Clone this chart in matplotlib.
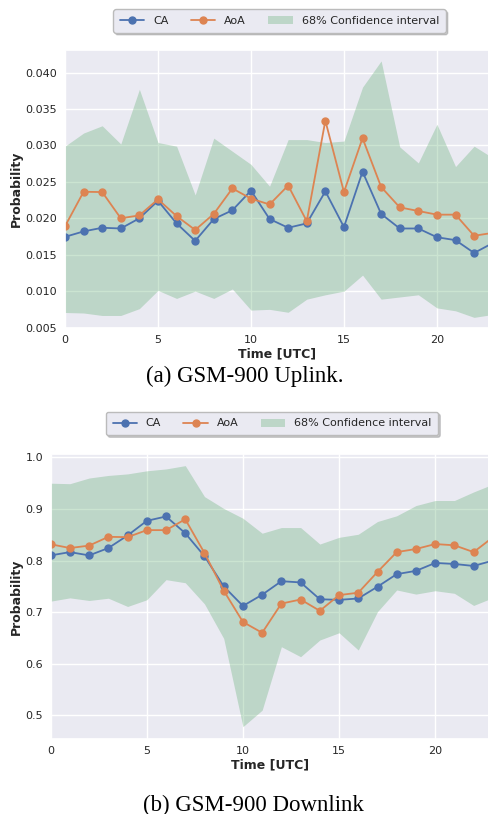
import numpy as np
import matplotlib
matplotlib.use("Agg")
import matplotlib.pyplot as plt
import seaborn as sns

sns.set_theme(style="darkgrid")
plt.rcParams['font.family'] = ['DejaVu Sans']

hours = list(range(24))

# (a) GSM-900 Uplink
ul_ca = [0.01745, 0.0182, 0.0187, 0.0186, 0.0200, 0.0224, 0.0193, 0.0169,
         0.0199, 0.0211, 0.0238, 0.0199, 0.0187, 0.0193, 0.0237, 0.0188,
         0.0264, 0.0206, 0.0186, 0.0186, 0.0174, 0.0170, 0.01524, 0.0166]
ul_aoa = [0.0189, 0.02364, 0.0236, 0.0200, 0.0204, 0.0226, 0.0203, 0.0184,
          0.0206, 0.0241, 0.0227, 0.0219, 0.0245, 0.0196, 0.0334, 0.0236,
          0.0310, 0.0243, 0.0215, 0.0210, 0.0205, 0.0205, 0.0176, 0.0180]
ul_hi = [0.0299, 0.0317, 0.0327, 0.0302, 0.0377, 0.0304, 0.0299, 0.0232,
         0.0310, 0.0292, 0.0274, 0.0244, 0.0308, 0.0308, 0.0304, 0.0306,
         0.0380, 0.0416, 0.0298, 0.0276, 0.0329, 0.0271, 0.0299, 0.0283]
ul_lo = [0.00707, 0.0070, 0.00666, 0.00666, 0.0076, 0.0101, 0.0090, 0.0100,
         0.0090, 0.0103, 0.0074, 0.0075, 0.0071, 0.0089, 0.0095, 0.0100,
         0.0122, 0.0089, 0.0092, 0.0095, 0.0077, 0.0073, 0.0064, 0.0068]
ul_yticks = [0.005, 0.010, 0.015, 0.020, 0.025, 0.030, 0.035, 0.040]

# (b) GSM-900 Downlink
dl_ca = [0.810, 0.8164, 0.810, 0.8243, 0.8487, 0.877, 0.8855, 0.853,
         0.8085, 0.750, 0.712, 0.7338, 0.760, 0.7576, 0.725, 0.7238,
         0.7265, 0.7493, 0.7737, 0.780, 0.7954, 0.7934, 0.7895, 0.800]
dl_aoa = [0.8316, 0.8243, 0.829, 0.846, 0.8454, 0.859, 0.859, 0.880,
          0.8146, 0.7417, 0.681, 0.660, 0.7166, 0.7245, 0.7026, 0.733,
          0.7377, 0.778, 0.8164, 0.8224, 0.832, 0.8296, 0.8164, 0.845]
dl_hi = [0.950, 0.949, 0.960, 0.965, 0.968, 0.974, 0.9776, 0.984,
         0.924, 0.901, 0.882, 0.853, 0.864, 0.864, 0.832, 0.845,
         0.851, 0.8757, 0.8868, 0.9066, 0.9164, 0.9164, 0.933, 0.948]
dl_lo = [0.7213, 0.7277, 0.7226, 0.727, 0.711, 0.724, 0.763, 0.757,
         0.716, 0.649, 0.478, 0.510, 0.633, 0.6136, 0.646, 0.660,
         0.6266, 0.701, 0.743, 0.735, 0.7415, 0.7365, 0.713, 0.728]
dl_yticks = [0.5, 0.6, 0.7, 0.8, 0.9, 1.0]

W, H = 489, 814
fig = plt.figure(figsize=(W / 100, H / 100), dpi=100)


def px_axes(left, top, right, bottom):
    return fig.add_axes([left / W, 1 - bottom / H, (right - left) / W, (bottom - top) / H])


blue = '#4c72b0'
orange = '#dd8452'
green = '#55a868'


def draw(ax, ca, aoa, lo, hi, ylim, yticks, fmt, legend_center, ylabel_x):
    ax.fill_between(hours, lo, hi, color=green, alpha=0.3, linewidth=0,
                    label='68% Confidence interval')
    ax.plot(hours, ca, '-o', color=blue, lw=1.3, ms=5, label='CA')
    ax.plot(hours, aoa, '-o', color=orange, lw=1.3, ms=5, label='AoA')
    ax.set_xlim(0, 22.8)
    ax.set_ylim(*ylim)
    ax.set_xticks([0, 5, 10, 15, 20])
    ax.set_yticks(yticks)
    ax.set_yticklabels([fmt % v for v in yticks])
    ax.tick_params(axis='x', labelsize=8, length=0, pad=4.5)
    ax.tick_params(axis='y', labelsize=8, length=0, pad=5.5)
    ax.set_xlabel('Time [UTC]', fontsize=9, fontweight='bold', labelpad=2)
    ax.set_ylabel('Probability', fontsize=9, fontweight='bold')
    ax.yaxis.set_label_coords(ylabel_x, 0.5)
    handles, labels = ax.get_legend_handles_labels()
    order = [1, 2, 0]
    fig.legend([handles[i] for i in order], [labels[i] for i in order],
               loc='center', bbox_to_anchor=(legend_center[0] / W, 1 - legend_center[1] / H),
               ncol=3, fontsize=8, shadow={'alpha': 0.25, 'ox': 1.5, 'oy': -1.5}, frameon=True,
               handlelength=2.2, columnspacing=2.0, borderpad=0.6,
               facecolor='#eaeaf2', edgecolor='#bbbbbb')


ax1 = px_axes(65, 50, 489, 328.3)
draw(ax1, ul_ca, ul_aoa, ul_lo, ul_hi, (0.0049, 0.0431), ul_yticks, '%.3f',
     (279.5, 21), (23 - 65) / (489 - 65))

ax2 = px_axes(50.7, 454.3, 489, 739.3)
draw(ax2, dl_ca, dl_aoa, dl_lo, dl_hi, (0.4535, 1.006), dl_yticks, '%.1f',
     (272, 423.5), (23 - 50.7) / (489 - 50.7))

fig.text(245 / W, 1 - 376 / H, '(a) GSM-900 Uplink.', ha='center', va='center',
         fontsize=16.5, family='Liberation Serif', color='black')
fig.text(253 / W, 1 - 805 / H, '(b) GSM-900 Downlink', ha='center', va='center',
         fontsize=16.5, family='Liberation Serif', color='black')

fig.savefig('out.png', dpi=100, facecolor='white')
